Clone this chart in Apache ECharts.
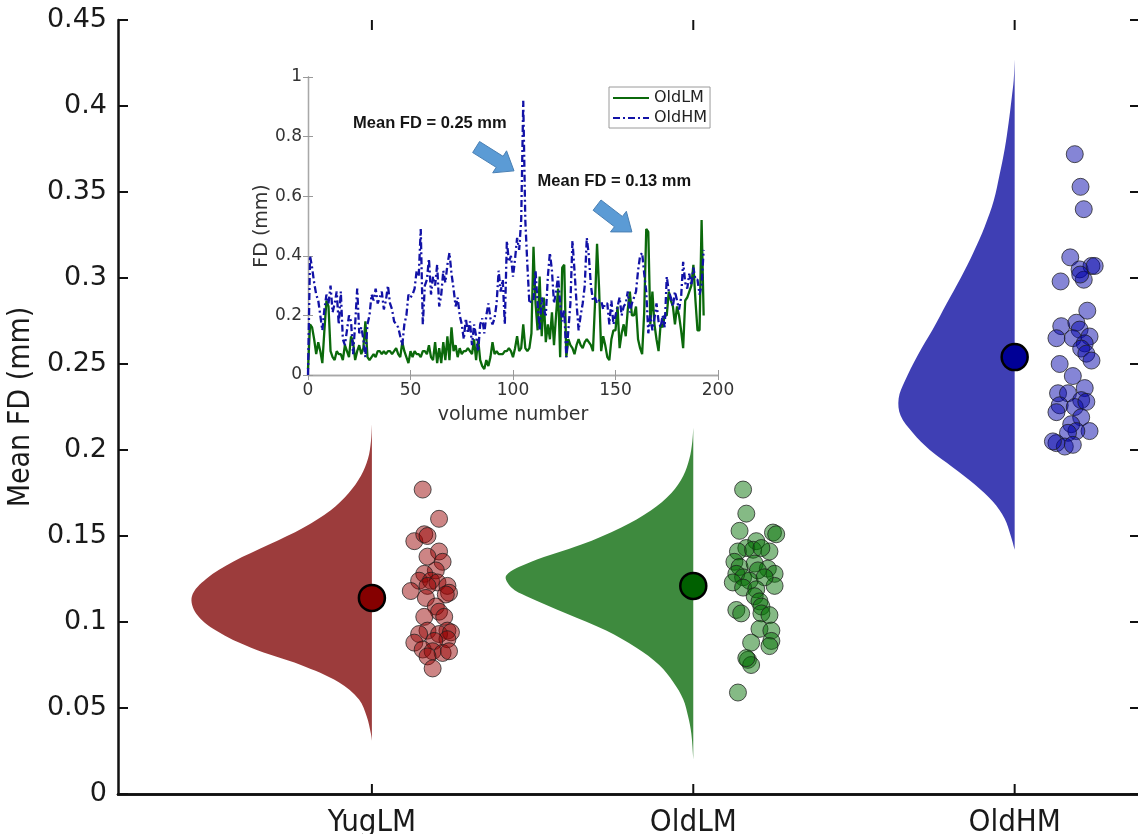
<!DOCTYPE html>
<html>
<head>
<meta charset="utf-8">
<script src="https://cdn.jsdelivr.net/npm/echarts@6/dist/echarts.min.js"></script>
<style>html,body{margin:0;padding:0;background:#fff}#c{width:1138px;height:834px}</style>
</head>
<body>
<div id="c"></div>
<script>
// ---------- DATA ----------
const categories = ['YugLM', 'OldLM', 'OldHM'];
const meanFD = [0.114, 0.121, 0.254];

const yugValues = [0.177,0.160,0.147,0.151,0.150,0.141,0.138,0.135,0.130,0.128,0.124,0.124,0.123,0.121,0.121,0.118,0.117,0.114,0.116,0.109,0.106,0.103,0.103,0.095,0.095,0.093,0.093,0.094,0.090,0.088,0.089,0.084,0.083,0.082,0.083,0.080,0.073];
const yugJitter = [0.158,0.209,0.132,0.163,0.173,0.209,0.173,0.220,0.199,0.163,0.147,0.184,0.204,0.235,0.173,0.121,0.240,0.168,0.230,0.199,0.209,0.163,0.225,0.173,0.235,0.147,0.209,0.246,0.235,0.132,0.194,0.158,0.189,0.220,0.240,0.173,0.189];

const oldLMValues = [0.177,0.163,0.153,0.152,0.151,0.147,0.143,0.141,0.142,0.141,0.143,0.135,0.132,0.134,0.131,0.128,0.128,0.130,0.126,0.123,0.124,0.121,0.120,0.126,0.119,0.115,0.112,0.109,0.107,0.105,0.105,0.104,0.096,0.095,0.088,0.089,0.086,0.078,0.075,0.079,0.059];
const oldLMJitter = [0.155,0.165,0.144,0.248,0.258,0.196,0.165,0.139,0.186,0.237,0.212,0.128,0.144,0.191,0.232,0.134,0.253,0.201,0.155,0.123,0.175,0.253,0.155,0.222,0.196,0.191,0.206,0.212,0.134,0.149,0.212,0.237,0.206,0.243,0.180,0.243,0.237,0.170,0.180,0.165,0.139];

const oldHMValues = [0.372,0.353,0.340,0.312,0.307,0.305,0.307,0.298,0.299,0.302,0.281,0.272,0.274,0.270,0.265,0.265,0.266,0.262,0.259,0.256,0.252,0.250,0.243,0.236,0.233,0.233,0.229,0.226,0.225,0.228,0.222,0.219,0.215,0.211,0.211,0.210,0.204,0.202,0.203,0.205];
const oldHMJitter = [0.187,0.205,0.215,0.173,0.239,0.202,0.249,0.143,0.215,0.204,0.226,0.145,0.192,0.202,0.130,0.181,0.233,0.218,0.207,0.223,0.239,0.140,0.181,0.218,0.135,0.166,0.207,0.140,0.187,0.223,0.130,0.207,0.176,0.233,0.192,0.166,0.130,0.156,0.181,0.119];

// half-violin density profiles (level in mm, half-width in category units)
const yugLevels = [0.215,0.205,0.195,0.185,0.175,0.165,0.155,0.145,0.135,0.125,0.115,0.105,0.095,0.085,0.075,0.065,0.055,0.045,0.035,0.031];
const yugWidths = [0,0.003,0.012,0.034,0.072,0.128,0.212,0.320,0.432,0.516,0.560,0.547,0.485,0.376,0.221,0.103,0.040,0.016,0.003,0];
const oldLMLevels = [0.213,0.205,0.195,0.185,0.175,0.165,0.155,0.145,0.135,0.127,0.12,0.115,0.105,0.095,0.085,0.075,0.065,0.055,0.045,0.035,0.02];
const oldLMWidths = [0,0.003,0.012,0.031,0.068,0.131,0.224,0.348,0.504,0.582,0.566,0.519,0.395,0.271,0.177,0.106,0.062,0.031,0.016,0.006,0];
const oldHMLevels = [0.427,0.415,0.405,0.39,0.375,0.36,0.345,0.33,0.315,0.30,0.285,0.27,0.255,0.24,0.23,0.22,0.21,0.20,0.19,0.18,0.17,0.16,0.15,0.142];
const oldHMWidths = [0,0.003,0.009,0.019,0.031,0.047,0.065,0.093,0.128,0.168,0.212,0.255,0.302,0.342,0.361,0.355,0.317,0.264,0.193,0.124,0.068,0.031,0.012,0];

// inset: framewise displacement per volume
const fdOldLM = [
0.02,0.17,0.16,0.12,0.07,0.11,0.08,0.04,0.15,0.25,
0.23,0.08,0.06,0.05,0.08,0.07,0.07,0.05,0.10,0.08,
0.06,0.13,0.11,0.05,0.08,0.10,0.07,0.09,0.18,0.06,
0.05,0.06,0.07,0.06,0.08,0.08,0.07,0.08,0.07,0.08,
0.08,0.07,0.08,0.09,0.07,0.06,0.11,0.08,0.06,0.04,
0.08,0.06,0.08,0.07,0.07,0.06,0.08,0.08,0.07,0.10,
0.06,0.05,0.11,0.04,0.09,0.04,0.11,0.05,0.13,0.05,
0.16,0.08,0.10,0.06,0.09,0.07,0.08,0.08,0.09,0.08,
0.07,0.12,0.05,0.12,0.05,0.03,0.02,0.05,0.03,0.06,
0.11,0.07,0.08,0.07,0.07,0.07,0.08,0.08,0.09,0.08,
0.06,0.09,0.13,0.08,0.09,0.17,0.09,0.08,0.09,0.14,
0.43,0.24,0.15,0.33,0.13,0.26,0.11,0.17,0.12,0.21,
0.10,0.20,0.29,0.06,0.36,0.37,0.06,0.12,0.10,0.09,
0.07,0.10,0.12,0.10,0.09,0.11,0.12,0.11,0.10,0.08,
0.24,0.44,0.29,0.08,0.13,0.10,0.06,0.05,0.12,0.15,
0.15,0.23,0.09,0.14,0.17,0.13,0.22,0.28,0.20,0.20,
0.23,0.12,0.09,0.07,0.21,0.49,0.48,0.17,0.28,0.17,
0.12,0.08,0.17,0.16,0.20,0.20,0.28,0.25,0.23,0.17,
0.23,0.20,0.15,0.09,0.25,0.26,0.28,0.30,0.37,0.25,
0.15,0.15,0.52,0.20];
const fdOldHM = [
0.00,0.40,0.36,0.31,0.27,0.25,0.20,0.15,0.22,0.27,
0.24,0.30,0.21,0.24,0.28,0.17,0.28,0.12,0.10,0.15,
0.20,0.18,0.07,0.17,0.29,0.14,0.16,0.12,0.06,0.17,
0.20,0.27,0.25,0.29,0.24,0.26,0.28,0.22,0.25,0.30,
0.24,0.22,0.18,0.17,0.16,0.13,0.10,0.17,0.20,0.27,
0.26,0.27,0.29,0.35,0.33,0.49,0.17,0.30,0.32,0.39,
0.27,0.33,0.30,0.37,0.23,0.27,0.35,0.31,0.37,0.41,
0.34,0.29,0.23,0.26,0.20,0.17,0.12,0.19,0.14,0.18,
0.10,0.17,0.13,0.08,0.17,0.19,0.14,0.20,0.24,0.19,
0.17,0.19,0.24,0.35,0.28,0.32,0.17,0.45,0.38,0.40,
0.33,0.39,0.46,0.42,0.52,0.92,0.52,0.37,0.24,0.25,
0.25,0.35,0.24,0.15,0.26,0.22,0.20,0.33,0.41,0.35,
0.24,0.28,0.33,0.24,0.18,0.22,0.06,0.15,0.24,0.45,
0.35,0.24,0.15,0.20,0.24,0.30,0.46,0.40,0.30,0.25,
0.26,0.24,0.25,0.25,0.22,0.24,0.24,0.17,0.25,0.17,
0.20,0.23,0.26,0.20,0.23,0.24,0.28,0.21,0.24,0.26,
0.28,0.35,0.40,0.41,0.34,0.28,0.14,0.20,0.15,0.19,
0.24,0.18,0.16,0.20,0.16,0.33,0.28,0.26,0.23,0.28,
0.25,0.22,0.26,0.38,0.31,0.29,0.34,0.30,0.36,0.32,
0.32,0.27,0.30,0.42];

const annotations = [
  {text: 'Mean FD = 0.25 mm', at: [22, 0.845], arrowFrom: [82, 0.765], arrowTo: [100.5, 0.685]},
  {text: 'Mean FD = 0.13 mm', at: [112, 0.648], arrowFrom: [141, 0.57], arrowTo: [158, 0.48]}
];

// ---------- STYLE ----------
const violinColors = ['#9c3c3c', '#3e8a3e', '#3f3fb4'];
const cloudColors = ['rgba(150,0,0,0.48)', 'rgba(0,110,0,0.48)', 'rgba(0,0,170,0.48)'];
const meanColors = ['#850000', '#006000', '#000096'];
const condensed = "'DejaVu Sans Condensed','Liberation Sans Narrow','DejaVu Sans',sans-serif";
const Y_MAX = 0.45;

const profiles = [
  {levels: yugLevels, widths: yugWidths},
  {levels: oldLMLevels, widths: oldLMWidths},
  {levels: oldHMLevels, widths: oldHMWidths}
];
const clouds = [[yugValues, yugJitter], [oldLMValues, oldLMJitter], [oldHMValues, oldHMJitter]];

const chart = echarts.init(document.getElementById('c'), null, {renderer: 'canvas'});

const mainAxisLine = {show: true, lineStyle: {color: '#111', width: 2.5}};
const mainTick = {show: true, inside: true, length: 10, lineStyle: {color: '#111', width: 2}};
const catPos = [1, 2, 3];
const insetLine = {show: true, lineStyle: {color: '#a8a8a8', width: 1.3}};
const insetTick = {show: true, inside: true, length: 5, lineStyle: {color: '#999', width: 1}};

const series = [];
series.push({
  type: 'custom', xAxisIndex: 0, yAxisIndex: 0, z: 2,
  data: [0, 1, 2],
  renderItem: function (params, api) {
    const g = params.dataIndex;
    const c = g + 1;
    const p = profiles[g];
    const pts = [];
    for (let i = 0; i < p.levels.length; i++) pts.push(api.coord([c - p.widths[i], p.levels[i]]));
    pts.push(api.coord([c, p.levels[p.levels.length - 1]]));
    pts.unshift(api.coord([c, p.levels[0]]));
    return {type: 'polygon', shape: {points: pts, smooth: 0.35}, style: {fill: violinColors[g], stroke: null}};
  }
});
// category ticks (inside, bottom and top) drawn through the axis scale
series.push({
  type: 'custom', xAxisIndex: 0, yAxisIndex: 0, z: 6, silent: true,
  data: catPos,
  renderItem: function (params, api) {
    const b = api.coord([api.value(0), 0]);
    const t = api.coord([api.value(0), Y_MAX]);
    const st = {stroke: '#111', lineWidth: 2};
    return {type: 'group', children: [
      {type: 'line', shape: {x1: b[0], y1: b[1], x2: b[0], y2: b[1] - 10}, style: st},
      {type: 'line', shape: {x1: t[0], y1: t[1], x2: t[0], y2: t[1] + 10}, style: st}
    ]};
  }
});
clouds.forEach(function (cl, g) {
  series.push({
    type: 'scatter', xAxisIndex: 0, yAxisIndex: 0, z: 3,
    symbolSize: 17,
    data: cl[0].map(function (v, i) { return [g + 1 + cl[1][i], v]; }),
    itemStyle: {color: cloudColors[g], borderColor: 'rgba(30,30,30,0.75)', borderWidth: 1, opacity: 1}
  });
});
series.push({
  type: 'scatter', xAxisIndex: 0, yAxisIndex: 0, z: 4, symbolSize: 26,
  data: meanFD.map(function (m, g) { return {value: [g + 1, m], itemStyle: {color: meanColors[g]}}; }),
  itemStyle: {borderColor: '#000', borderWidth: 2.5, opacity: 1}
});
series.push({
  name: 'OldLM', type: 'line', xAxisIndex: 2, yAxisIndex: 2, z: 5, symbol: 'none', showSymbol: false,
  data: fdOldLM.map(function (v, i) { return [i, v]; }),
  lineStyle: {color: '#0b690b', width: 2.3}, itemStyle: {color: '#0b690b'}
});
series.push({
  name: 'OldHM', type: 'line', xAxisIndex: 2, yAxisIndex: 2, z: 5, symbol: 'none', showSymbol: false,
  data: fdOldHM.map(function (v, i) { return [i, v]; }),
  lineStyle: {color: '#1212a6', width: 2.3, type: [7, 3, 2, 3]}, itemStyle: {color: '#1212a6'}
});

const option = {
  backgroundColor: '#fff',
  animation: false,
  grid: [
    {left: 118, top: 20, width: 1022, height: 774, outerBoundsMode: 'none', containLabel: false},
    {left: 308, top: 77, width: 410, height: 298, z: 5, outerBoundsMode: 'none', containLabel: false}
  ],
  legend: {
    data: ['OldLM', 'OldHM'], orient: 'vertical', left: 609, top: 87,
    itemWidth: 36, itemHeight: 10, itemGap: 4, padding: [3, 3, 2, 3],
    borderColor: '#9a9a9a', borderWidth: 1, backgroundColor: '#fff',
    itemStyle: {opacity: 0},
    textStyle: {fontSize: 16, color: '#222', fontFamily: 'DejaVu Sans'}
  },
  xAxis: [
    {gridIndex: 0, type: 'value', position: 'bottom', min: 0.21, max: 3.39,
     axisLine: mainAxisLine, axisTick: {show: false}, splitLine: {show: false},
     axisLabel: {customValues: catPos, formatter: function (v) { return categories[Math.round(v) - 1]; },
       fontSize: 31, color: '#1a1a1a', fontFamily: condensed, margin: 13}},
    {gridIndex: 0, type: 'value', position: 'top', min: 0.21, max: 3.39,
     axisLine: mainAxisLine, axisTick: {show: false}, splitLine: {show: false},
     axisLabel: {show: false}},
    {gridIndex: 1, type: 'value', position: 'bottom', min: 0, max: 200, interval: 50,
     axisLine: insetLine, axisTick: insetTick, splitLine: {show: false},
     axisLabel: {fontSize: 17, color: '#333', fontFamily: 'DejaVu Sans', margin: 7},
     name: 'volume number', nameLocation: 'middle', nameGap: 31,
     nameTextStyle: {fontSize: 19, color: '#333', fontFamily: 'DejaVu Sans'}},
    {gridIndex: 1, type: 'value', position: 'top', min: 0, max: 200, interval: 50,
     axisLine: insetLine, axisTick: insetTick, splitLine: {show: false}, axisLabel: {show: false}}
  ],
  yAxis: [
    {gridIndex: 0, type: 'value', position: 'left', min: 0, max: Y_MAX, interval: 0.05,
     axisLine: mainAxisLine, axisTick: mainTick, splitLine: {show: false},
     axisLabel: {fontSize: 27, color: '#1a1a1a', fontFamily: 'DejaVu Sans', margin: 11},
     name: 'Mean FD (mm)', nameLocation: 'middle', nameGap: 74, nameRotate: 90,
     nameTextStyle: {fontSize: 30, color: '#1a1a1a', fontFamily: condensed}},
    {gridIndex: 0, type: 'value', position: 'right', min: 0, max: Y_MAX, interval: 0.05,
     axisLine: mainAxisLine, axisTick: mainTick, splitLine: {show: false}, axisLabel: {show: false}},
    {gridIndex: 1, type: 'value', position: 'left', min: 0, max: 1, interval: 0.2,
     axisLine: insetLine, axisTick: insetTick, splitLine: {show: false},
     axisLabel: {fontSize: 17, color: '#333', fontFamily: 'DejaVu Sans', margin: 6},
     name: 'FD (mm)', nameLocation: 'middle', nameGap: 36, nameRotate: 90,
     nameTextStyle: {fontSize: 19, color: '#333', fontFamily: 'DejaVu Sans'}},
    {gridIndex: 1, type: 'value', position: 'right', min: 0, max: 1, interval: 0.2,
     axisLine: insetLine, axisTick: insetTick, splitLine: {show: false}, axisLabel: {show: false}}
  ],
  series: series
};
chart.setOption(option);

// annotations placed from inset data coordinates
function px(p) { return chart.convertToPixel({xAxisIndex: 2, yAxisIndex: 2}, p); }
const graphics = [];
annotations.forEach(function (a) {
  const t = px(a.at);
  graphics.push({type: 'text', z: 20, style: {text: a.text, x: t[0], y: t[1], fill: '#151515',
    font: 'bold 16.5px "Liberation Sans", Arial, sans-serif', verticalAlign: 'middle', textVerticalAlign: 'middle'}});
  const T = px(a.arrowFrom), H = px(a.arrowTo);
  const dx = H[0] - T[0], dy = H[1] - T[1], L = Math.sqrt(dx * dx + dy * dy);
  const ux = dx / L, uy = dy / L, nx = -uy, ny = ux;
  const hl = 17, sw = 6.5, hw = 13;
  const B = [H[0] - ux * hl, H[1] - uy * hl];
  graphics.push({type: 'polygon', z: 20, shape: {points: [
    [T[0] + nx * sw, T[1] + ny * sw], [B[0] + nx * sw, B[1] + ny * sw], [B[0] + nx * hw, B[1] + ny * hw],
    H, [B[0] - nx * hw, B[1] - ny * hw], [B[0] - nx * sw, B[1] - ny * sw], [T[0] - nx * sw, T[1] - ny * sw]
  ]}, style: {fill: '#5b9bd5', stroke: '#4a80b4', lineWidth: 1}});
});
chart.setOption({graphic: graphics});
</script>
</body>
</html>
